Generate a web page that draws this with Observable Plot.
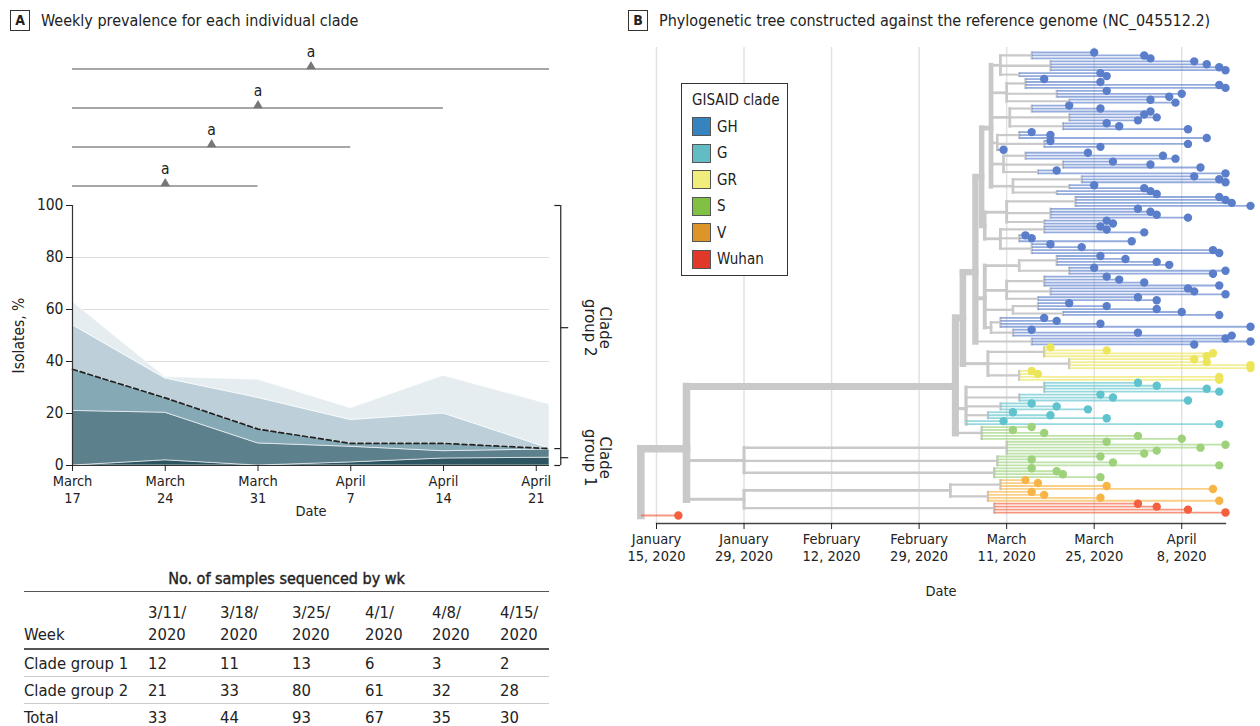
<!DOCTYPE html>
<html><head><meta charset="utf-8">
<script src="https://cdn.jsdelivr.net/npm/d3@7"></script>
<script src="https://cdn.jsdelivr.net/npm/@observablehq/plot@0.6"></script>
<style>
body{margin:0;background:#fff;font-family:"Liberation Sans Narrow","DejaVu Sans Condensed",sans-serif;color:#222;}
#wrap{position:relative;width:1260px;height:726px;overflow:hidden;background:#fff;}
.ptitle{position:absolute;font-size:16px;display:flex;align-items:center;white-space:nowrap;}
.pbox{display:inline-block;border:1.3px solid #333;width:18px;height:19px;line-height:19px;text-align:center;font-weight:bold;font-size:14px;margin-right:11px;}
#plotA{position:absolute;left:0;top:35px;}
#plotB{position:absolute;left:625px;top:35px;}
#legend{position:absolute;left:681px;top:83px;width:105px;height:191px;border:1.3px solid #333;background:#fff;}
#legend .lt{position:absolute;left:10px;top:7px;font-size:15px;}
#legend .it{position:absolute;left:10px;font-size:15px;display:flex;align-items:center;}
#legend .sw{width:19px;height:19px;border:1.2px solid #555;margin-right:6px;box-sizing:border-box;}
#tbl{position:absolute;left:24px;top:566px;width:525px;}
#tbl .tt{text-align:center;font-size:16px;height:25px;line-height:25px;border-bottom:1.5px solid #555;color:#222;-webkit-text-stroke:0.4px #222;}
#tbl table{border-collapse:collapse;width:525px;font-size:16.5px;table-layout:fixed;}
#tbl td{padding:0;white-space:pre;vertical-align:middle;height:26px;}
#tbl tr.h td{height:54px;vertical-align:bottom;line-height:22px;padding-bottom:2px;border-bottom:2.5px solid #555;}
#tbl tr.b td{border-bottom:1.3px solid #ccc;}
</style></head>
<body><div id="wrap">
<div class="ptitle" style="left:10px;top:10px;"><span class="pbox">A</span>Weekly prevalence for each individual clade</div>
<div class="ptitle" style="left:628px;top:10px;"><span class="pbox">B</span>Phylogenetic tree constructed against the reference genome (NC_045512.2)</div>
<div id="plotA"></div>
<div id="plotB"></div>
<div id="legend"></div>
<div id="tbl"></div>
</div>
<script>
const FONT = '"Liberation Sans Narrow","DejaVu Sans Condensed",sans-serif';
const parseDate = s => new Date(s + "T00:00:00Z");

// ---------- Panel A data ----------
const weeks = ["2020-03-17","2020-03-24","2020-03-31","2020-04-07","2020-04-14","2020-04-22"];
const layerNames = ["Clade group 1 (a)","Clade group 1 (b)","Clade group 1 (c)","Clade group 2 (a)","Clade group 2 (b)"];
const layer1 = [0, 2, 0, 1.2, 2.7, 3];
const layer2 = [21, 18.3, 8.5, 6.0, 2.8, 3.2];
const layer3 = [16, 5.7, 5.5, 1.3, 3.0, 0.3];
const layer4 = [17, 7.5, 12, 9, 11.5, 0];
const layer5 = [9, 0.5, 7, 4.5, 14.5, 17];
const layerColors = ["#2d5461","#5d808d","#86a9b6","#bdd0d9","#e5edf1"];
const cladeGroup1Share = [37, 26, 14, 8.5, 8.5, 6.5];
const xTickDates = ["2020-03-17","2020-03-24","2020-03-31","2020-04-07","2020-04-14","2020-04-21"];
const xTickLabels = ["March\n17","March\n24","March\n31","April\n7","April\n14","April\n21"];
const yTicks = [0, 20, 40, 60, 80, 100];
const gridValues = [20, 40, 60, 80];
const comparisonStart = "2020-03-17";
const comparisonEnds = ["2020-04-22","2020-04-14","2020-04-07","2020-03-31"];
const comparisonLabels = ["a","a","a","a"];
const groupBounds = [100, 6.5, 0];
const groupLabels = ["Clade\ngroup 2","Clade\ngroup 1"];
const groupLabelAt = [53, 3];

// ---------- Table data ----------
const tableTitle = "No. of samples sequenced by wk";
const tableWeeks = ["3/11/\n2020","3/18/\n2020","3/25/\n2020","4/1/\n2020","4/8/\n2020","4/15/\n2020"];
const group1Counts = [12, 11, 13, 6, 3, 2];
const group2Counts = [21, 33, 80, 61, 32, 28];
const totalCounts = [33, 44, 93, 67, 35, 30];

// ---------- Panel B data (days since January 15, 2020) ----------
const treeTickDays = [0, 14, 28, 42, 56, 70, 84];
const treeTickLabels = ["January\n15, 2020","January\n29, 2020","February\n12, 2020","February\n29, 2020","March\n11, 2020","March\n25, 2020","April\n8, 2020"];
const cladeKeys = ["h","g","r","s","v","w"];
const cladeNames = ["GH","G","GR","S","V","Wuhan"];
const cladeSwatch = ["#3584bf","#62bcc3","#f1ed7d","#80c143","#dd9428","#e0392a"];
const cladeTip = ["#5b7ecb","#5ec3cc","#ece55a","#9dd27b","#f7b547","#f2603d"];

const ghTop = [
  "((h70,h78,h79)60,(h86,h88,h90,h91)63,(h71,h72)58)55",
  "((h62,h71,h90,h91)59,(h72,h84,h82)64,(h79,h83)66)56",
  "((h66,h71,h79)60,(h78,h80,h77)66,(h72,h74,h85)65)56.5",
  "((h60,h63,h88)58,(h63,h85,h71)62,h55.5)54.5",
  "((h69,h81,h83)59,(h73,h79,h87)65,(h64,h91)61)55.5",
  "((h86,h90,h91)68,(h70,h78)66,(h79,h80)64)57"
];
const ghMid = [
  "((h90,h91,h92,h95)67,(h77,h79,h80,h85)63,(h72,h73)62)56",
  "((h71,h72,h78)62,(h59,h60,h76)58,(h63,h68,h89,h90)60)55"
];
const ghLow = [
  "((h71,h75,h80,h82)64,(h70,h91,h89)66)58",
  "((h72,h74,h78,h90)62,(h85,h86,h91)63,(h77,h80)61)56",
  "((h66,h72,h80)61,(h84,h90)65)57",
  "((h62,h64,h71,h95)55,(h60,h77,h92)57)53.5"
];
const ghExtra = "(h91,h95,h86)60";
const grTree = "((r63,r72,r89,r88)62,(r86,r88,r95,r95)66,(r60,r61,r90,r90)58)53";
const gTree = "((g77,g80,g88,g90)62,(g71,g73,g85)58,(g60,g64,g69)55,(g57,g63,g72)53,g55.5,g90)49.5";
const sUpperTree = "(s60,s57,s62,s77,s84)52";
const sLowerTree = "((s72,s91,s87,s80,s78)56,(s71,s60,s73,s90)54.5,(s60,s64,s65,s71)54)14";
const vTree = "((v59,v61,v72,v89)55,(v60,v62,v71,v90)53)47";
const wTree = "(w77,w80,w85,w91)54";
const referenceTip = "w3.5";

// ---------- Panel A ----------
const layers = [layer1, layer2, layer3, layer4, layer5];
const areaRows = layers.flatMap((vals, k) => vals.map((v, j) => ({date: parseDate(weeks[j]), value: v, layer: layerNames[k]})));
const g1Rows = cladeGroup1Share.map((v, j) => ({date: parseDate(weeks[j]), value: v}));
const tickMapA = new Map(xTickDates.map((d, i) => [+parseDate(d), xTickLabels[i]]));
const d0 = parseDate(weeks[0]);
const dLast = parseDate(weeks[weeks.length - 1]);
const DAY = 864e5;
const xBr = new Date(+dLast + 0.85 * DAY);
const xHook = new Date(+dLast + 0.4 * DAY);
const xOut = new Date(+dLast + 1.45 * DAY);
const compRows = comparisonEnds.map((e, i) => ({x1: parseDate(comparisonStart), x2: parseDate(e), level: comparisonEnds.length - 1 - i, label: comparisonLabels[i]}));
const compY = r => 107.5 + 15 * r.level;
const compMid = r => new Date((+r.x1 + +r.x2) / 2);

const plotA = Plot.plot({
  width: 620, height: 490,
  marginLeft: 72, marginRight: 71, marginTop: 170, marginBottom: 60,
  style: {fontFamily: FONT, fontSize: "15px", color: "#222", background: "transparent"},
  x: {type: "utc", domain: [d0, dLast]},
  y: {domain: [0, 100]},
  color: {domain: layerNames, range: layerColors},
  marks: [
    Plot.ruleY(gridValues, {stroke: "#dcdcdc", strokeWidth: 1.2}),
    Plot.areaY(areaRows, {x: "date", y: "value", z: "layer", fill: "layer", stroke: "#fff", strokeWidth: 0.6}),
    Plot.line(g1Rows, {x: "date", y: "value", stroke: "#222", strokeWidth: 1.7, strokeDasharray: "5,3"}),
    Plot.ruleX([d0], {y1: 0, y2: 100, stroke: "#333", strokeWidth: 1.2}),
    Plot.ruleY([0], {stroke: "#333", strokeWidth: 1.2}),
    Plot.axisY({ticks: yTicks, tickSize: 6, fontSize: 15.5, label: "Isolates, %", labelAnchor: "center", labelOffset: 60, labelArrow: "none"}),
    Plot.axisX({ticks: xTickDates.map(parseDate), tickFormat: d => tickMapA.get(+d), tickSize: 6, fontSize: 14.5, lineHeight: 1.15, label: "Date", labelAnchor: "center", labelOffset: 50, labelArrow: "none"}),
    // comparison brackets
    Plot.ruleY(compRows, {x1: "x1", x2: "x2", y: compY, stroke: "#8a8a8a", strokeWidth: 1.3}),
    Plot.dot(compRows, {x: compMid, y: compY, symbol: "triangle", r: 3.6, fill: "#777", dy: -2.5}),
    Plot.text(compRows, {x: compMid, y: compY, text: "label", dy: -17, fontSize: 15.5, fill: "#222"}),
    // clade group bracket
    Plot.ruleX([xBr], {y1: 0, y2: 100, stroke: "#222", strokeWidth: 1.2}),
    Plot.ruleY(groupBounds, {x1: xHook, x2: xBr, stroke: "#222", strokeWidth: 1.2}),
    Plot.ruleY(groupLabelAt, {x1: xBr, x2: xOut, stroke: "#222", strokeWidth: 1.2}),
    Plot.text(groupLabels, {x: () => dLast, y: (d, i) => groupLabelAt[i], text: d => d, rotate: 90, dx: 48, fontSize: 16.5, lineHeight: 0.95, fill: "#222"})
  ]
});
document.getElementById("plotA").append(plotA);

// ---------- Table ----------
(function () {
  const t = document.getElementById("tbl");
  const widths = [124, 72, 72, 73, 67, 68, 49];
  let html = `<div class="tt">${tableTitle}</div><table><colgroup>${widths.map(w => `<col style="width:${w}px">`).join("")}</colgroup>`;
  html += `<tr class="h"><td>Week</td>${tableWeeks.map(w => `<td>${w}</td>`).join("")}<td></td></tr>`;
  const rows = [["Clade group 1", group1Counts], ["Clade group 2", group2Counts], ["Total", totalCounts]];
  rows.forEach(([name, vals], k) => {
    html += `<tr class="${k < rows.length - 1 ? "b" : ""}"><td>${name}</td>${vals.map(v => `<td>${v}</td>`).join("")}<td></td></tr>`;
  });
  html += "</table>";
  t.innerHTML = html;
})();

// ---------- Panel B: tree ----------
function parseNewick(str) {
  const s = str.replace(/\s+/g, "");
  let i = 0;
  function node() {
    const n = {children: []};
    if (s[i] === "(") {
      i++;
      n.children.push(node());
      while (s[i] === ",") { i++; n.children.push(node()); }
      i++;
    }
    const m = /^([a-z]?)(-?[\d.]+)/.exec(s.slice(i));
    i += m[0].length;
    n.clade = m[1] || null;
    n.day = +m[2];
    return n;
  }
  return node();
}
const ghTree = `(((${ghTop.join(",")})53.5,(${ghMid.join(",")})52.5)52,(${ghLow.join(",")})52.5,${ghExtra})51`;
const bTree = `((${ghTree},${grTree})49,${gTree},${sUpperTree})47.8`;
const dTree = `(${vTree},${wTree})14`;
const aTree = `(${bTree},${sLowerTree},${dTree})4.8`;
const rootTree = `(${aTree},${referenceTip})-2.5`;
const root = parseNewick(rootTree);

const leaves = [], grayLinks = [], tipLinks = [];
let leafIdx = 0;
(function layout(n) {
  if (!n.children.length) { n.y = leafIdx++; n.size = 1; leaves.push(n); return; }
  n.children.forEach(layout);
  n.y = d3.mean(n.children, c => c.y);
  n.size = d3.sum(n.children, c => c.size);
})(root);
const cladeColor = k => cladeTip[cladeKeys.indexOf(k)];
(function links(n, parent) {
  const w = 1.3 + 0.5 * Math.sqrt(n.size);
  if (parent) {
    if (n.children.length) grayLinks.push({x1: parent.day, x2: n.day, y1: n.y, y2: n.y, w});
    else tipLinks.push({x1: parent.day, x2: n.day, y: n.y, color: cladeColor(n.clade)});
  }
  if (n.children.length) {
    const ys = n.children.map(c => c.y);
    grayLinks.push({x1: n.day, x2: n.day, y1: d3.min(ys), y2: d3.max(ys), w});
    n.children.forEach(c => links(c, n));
  }
})(root, null);
leaves.forEach(l => l.color = cladeColor(l.clade));
const N = leaves.length;
const tickMapB = new Map(treeTickDays.map((d, i) => [d, treeTickLabels[i]]));

const plotB = Plot.plot({
  width: 635, height: 575,
  marginLeft: 31, marginRight: 35, marginTop: 12, marginBottom: 87,
  style: {fontFamily: FONT, fontSize: "15px", color: "#222", background: "transparent"},
  x: {domain: [0, 91]},
  y: {domain: [0, N - 1], range: [17, 480], axis: null},
  color: {type: "identity"},
  marks: [
    Plot.ruleX(treeTickDays, {stroke: "#e2e2e2", strokeWidth: 1.5}),
    Plot.frame({anchor: "bottom", stroke: "#444", strokeWidth: 1.3}),
    Plot.axisX({ticks: treeTickDays, tickFormat: d => tickMapB.get(d), tickSize: 6, fontSize: 14.5, lineHeight: 1.15, label: "Date", labelAnchor: "center", labelOffset: 72, labelArrow: "none"}),
    Plot.link(grayLinks, {x1: "x1", x2: "x2", y1: "y1", y2: "y2", stroke: "#c9c9c9", strokeWidth: "w", strokeLinecap: "square"}),
    Plot.link(tipLinks, {x1: "x1", x2: "x2", y1: "y", y2: "y", stroke: "color", strokeOpacity: 0.65, strokeWidth: 1.8}),
    Plot.dot(leaves, {x: "day", y: "y", fill: "color", r: 4.2})
  ]
});
document.getElementById("plotB").append(plotB);

// ---------- Legend ----------
(function () {
  const lg = document.getElementById("legend");
  let html = `<div class="lt">GISAID clade</div>`;
  cladeNames.forEach((name, i) => {
    html += `<div class="it" style="top:${33 + i * 26.5}px"><span class="sw" style="background:${cladeSwatch[i]}"></span>${name}</div>`;
  });
  lg.innerHTML = html;
})();
</script>
</body></html>
